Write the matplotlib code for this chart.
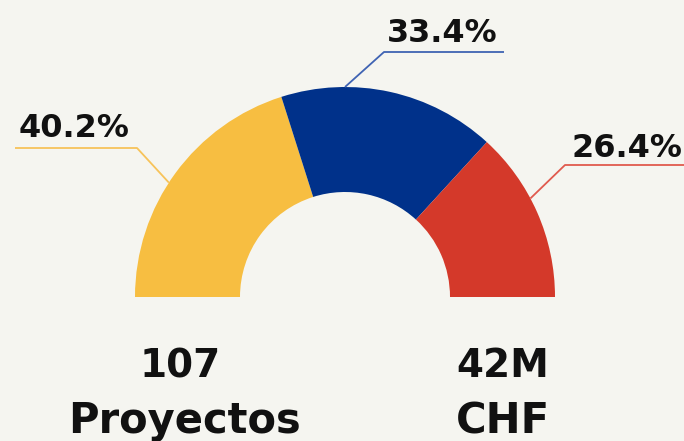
import matplotlib
matplotlib.use("Agg")
import matplotlib.pyplot as plt
import numpy as np

# Data
categories = ["A", "B", "C"]
shares = [40.2, 33.4, 26.4]
labels = ["40.2%", "33.4%", "26.4%"]
colors = ["#F7BE41", "#00318A", "#D4392A"]
line_colors = ["#F7C35A", "#3F63B3", "#E05A4E"]
stat_values = ["107", "42M"]
stat_units = ["Proyectos", "CHF"]

BG = "#F5F5F0"
W, H = 684, 441
fig = plt.figure(figsize=(W / 100, H / 100), dpi=100, facecolor=BG)
ax = fig.add_axes([0, 0, 1, 1])
ax.set_facecolor(BG)

cx, cy, R = 345, 144, 210
vals = shares + [sum(shares)]
wedges, _ = ax.pie(vals, colors=colors + ["none"], startangle=180, counterclock=False,
                   radius=R, center=(cx, cy), frame=True,
                   wedgeprops=dict(width=R / 2, linewidth=0, antialiased=True))
wedges[-1].set_visible(False)
ax.set_xlim(0, W)
ax.set_ylim(0, H)
ax.set_aspect("equal")
ax.axis("off")

# leader lines: anchor angle (deg), elbow, end x, label position
anchor_angles = [147, 90, 28]
elbows = [(137, 293), (384, 389), (565, 276)]
ends_x = [15, 504, 690]
label_pos = [(19, 304), (387, 399), (572, 284)]
for i in range(3):
    a = np.deg2rad(anchor_angles[i])
    sx, sy = cx + R * np.cos(a), cy + R * np.sin(a)
    ex, ey = elbows[i]
    ax.plot([sx, ex, ends_x[i]], [sy, ey, ey], color=line_colors[i], lw=1.3,
            solid_capstyle="butt", zorder=1)
    lx, ly = label_pos[i]
    ax.text(lx, ly, labels[i], ha="left", va="baseline", fontsize=23, fontweight="bold",
            color="#111111", family="DejaVu Sans")

# bottom stats
ax.text(180, 64, stat_values[0], ha="center", va="baseline", fontsize=28,
        fontweight="bold", color="#111111", family="DejaVu Sans")
ax.text(184, 8, stat_units[0], ha="center", va="baseline", fontsize=30,
        fontweight="bold", color="#111111", family="DejaVu Sans")
ax.text(503, 64, stat_values[1], ha="center", va="baseline", fontsize=28,
        fontweight="bold", color="#111111", family="DejaVu Sans")
ax.text(503, 8, stat_units[1], ha="center", va="baseline", fontsize=30,
        fontweight="bold", color="#111111", family="DejaVu Sans")

fig.savefig("out.png", dpi=100, facecolor=BG)
